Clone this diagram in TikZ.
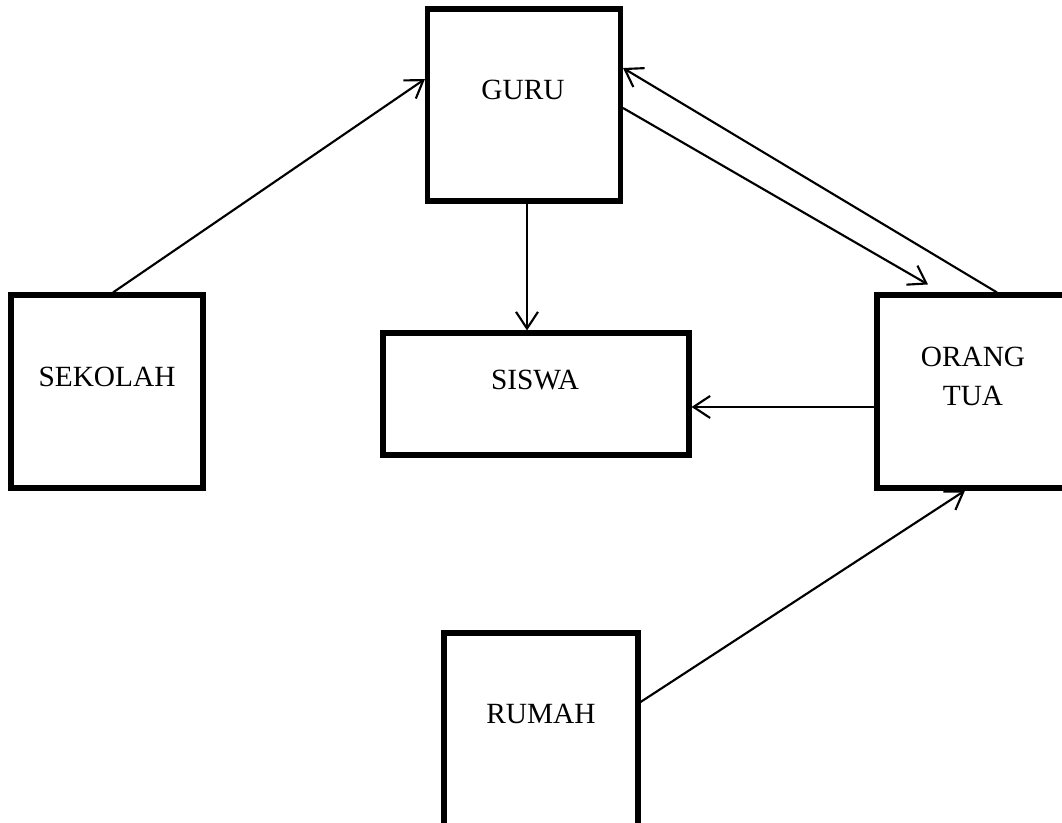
\documentclass[tikz,border=0pt]{standalone}
\usepackage{fontspec}
\setmainfont{Liberation Serif}
\usetikzlibrary{arrows.meta}
\begin{document}
\begin{tikzpicture}[x=0.75pt,y=-0.75pt,
  box/.style={draw=black, line width=3.8pt, inner sep=0pt, fill=white},
  lbl/.style={inner sep=0pt, anchor=base, font=\fontsize{22}{29}\selectfont},
  conn/.style={line width=1.6pt, -{Straight Barb[length=12.5pt,width=16.5pt,line width=1.6pt]}}]
\useasboundingbox (0,0) rectangle (1062,823);
% boxes
\node[box, minimum width=144.75pt, minimum height=144pt] (guru) at (524,105) {};
\node[box, minimum width=144pt, minimum height=144.75pt] (sekolah) at (107,391.5) {};
\node[box, minimum width=229.5pt, minimum height=91.5pt] (siswa) at (536,394) {};
\node[box, minimum width=144pt, minimum height=144.75pt] (orang) at (973,391.5) {};
\node[box, minimum width=145.5pt, minimum height=144.75pt] (rumah) at (541,729.5) {};
% labels
\node[lbl] (tguru) at (523,100) {GURU};
\node[lbl] (tsekolah) at (107,386) {SEKOLAH};
\node[lbl] (tsiswa) at (535,389) {SISWA};
\node[lbl] (torang) at (973,366) {ORANG};
\node[lbl] (ttua) at (973,405) {TUA};
\node[lbl] (trumah) at (541,723) {RUMAH};
% connectors
\coordinate (gs) at ([xshift=2.25pt]guru.south);
\coordinate (ow) at ([yshift=-11.6pt]orang.west);
\draw[conn] ([xshift=4.5pt]sekolah.north) -- ([yshift=19.5pt]guru.west);
\draw[conn] (gs) -- (gs |- siswa.north);
\draw[conn] ([yshift=-2.25pt]guru.east) -- ([xshift=-33.75pt,yshift=6pt]orang.north);
\draw[conn] ([xshift=18pt]orang.north) -- ([yshift=27.75pt]guru.east);
\draw[conn] (ow) -- (ow -| siswa.east);
\draw[conn] ([yshift=20.6pt]rumah.east) -- ([xshift=-6pt]orang.south);
\end{tikzpicture}
\end{document}
